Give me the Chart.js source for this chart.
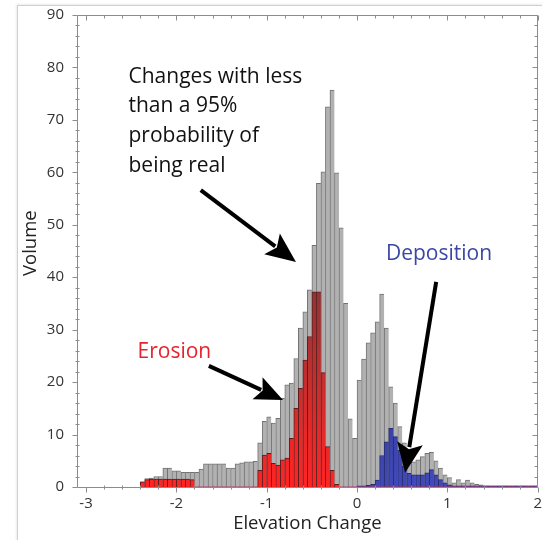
<!DOCTYPE html>
<html>
<head>
<meta charset="utf-8">
<script src="https://cdn.jsdelivr.net/npm/chart.js@4.4.1/dist/chart.umd.min.js"></script>
<style>
  html, body { margin: 0; padding: 0; background: #ffffff; }
  #wrap { position: relative; width: 542px; height: 540px; overflow: hidden; background: #fff; }
  #frame { position: absolute; left: 17px; top: 5px; width: 600px; height: 600px;
           border: 1px solid #cfcfcf; box-shadow: -1px -1px 2px rgba(0,0,0,0.08); }
  #c { position: absolute; left: 0; top: 0; }
</style>
</head>
<body>
<div id="wrap">
  <div id="frame"></div>
  <canvas id="c" width="542" height="540"></canvas>
</div>
<script>
// ---- data ----
const binCenters = [
  -2.375,-2.325,-2.275,-2.225,-2.175,-2.125,-2.075,-2.025,-1.975,-1.925,
  -1.875,-1.825,-1.775,-1.725,-1.675,-1.625,-1.575,-1.525,-1.475,-1.425,
  -1.375,-1.325,-1.275,-1.225,-1.175,-1.125,-1.075,-1.025,-0.975,-0.925,
  -0.875,-0.825,-0.775,-0.725,-0.675,-0.625,-0.575,-0.525,-0.475,-0.425,
  -0.375,-0.325,-0.275,-0.225,-0.175,-0.125,-0.075,-0.025,0.025,0.075,
  0.125,0.175,0.225,0.275,0.325,0.375,0.425,0.475,0.525,0.575,
  0.625,0.675,0.725,0.775,0.825,0.875,0.925,0.975,1.025,1.075,
  1.125,1.175,1.225,1.275,1.325,1.375,1.425,1.475,1.525,1.575,
  1.625,1.675,1.725,1.775,1.825,1.875,1.925,1.975
];
const totalVolume = [
  1.0,1.6,1.7,2.0,2.0,3.6,3.6,3.1,3.1,2.8,
  2.8,2.8,2.8,3.4,4.4,4.4,4.4,4.4,4.4,3.6,
  3.6,4.4,4.6,4.8,4.8,4.9,8.4,12.5,13.4,12.2,
  13.1,16.9,19.5,19.8,24.5,30.3,33.4,37.6,46.1,57.9,
  60.1,72.5,75.7,59.9,49.4,35.0,13.0,9.3,20.4,24.4,
  27.5,29.4,31.5,36.8,30.3,19.1,16.0,11.5,8.4,6.2,
  4.8,5.2,5.8,6.4,6.6,5.0,3.6,2.3,1.8,0.8,
  1.4,0.8,1.3,0.8,0.5,0.4,0.2,0.2,0.2,0.2,
  0.2,0.2,0.2,0.2,0.2,0.2,0.2,0.2
];
const erosionVolume = [
  1.0,1.4,1.5,1.5,1.5,1.5,1.5,1.5,1.5,1.5,
  1.5,1.4,0,0,0,0,0,0,0,0,
  0,0,0,0,0,0,3.2,6.1,6.4,4.5,
  4.2,5.2,5.5,9.3,15.0,18.8,24.2,28.7,37.2,37.2,
  21.8,7.7,3.2,0.5,0,0,0,0,0,0,
  0,0,0,0,0,0,0,0,0,0,
  0,0,0,0,0,0,0,0,0,0,
  0,0,0,0,0,0,0,0,0,0,
  0,0,0,0,0,0,0,0
];
const depositionVolume = [
  0,0,0,0,0,0,0,0,0,0,
  0,0,0,0,0,0,0,0,0,0,
  0,0,0,0,0,0,0,0,0,0,
  0,0,0,0,0,0,0,0,0,0,
  0,0,0,0,0,0,0,0,0.2,0.2,
  0.3,0.5,1.3,6.0,8.6,11.2,9.6,7.0,4.0,2.6,
  2.3,2.3,2.3,2.7,3.3,2.3,1.4,0.8,0.4,0.2,
  0.2,0.2,0.2,0.2,0.2,0.2,0.2,0.2,0.2,0.2,
  0.2,0.2,0.2,0.2,0.2,0.2,0.2,0.2
];
const xTickValues = [-3, -2, -1, 0, 1, 2];
const yTickValues = [0, 10, 20, 30, 40, 50, 60, 70, 80, 90];
const xAxisTitle = "Elevation Change";
const yAxisTitle = "Volume";
const noteLines = ["Changes with less", "than a 95%", "probability of", "being real"];
const erosionLabel = "Erosion";
const depositionLabel = "Deposition";

const FONT = "'Open Sans', 'Noto Sans', sans-serif";

function toPoints(vals) { return binCenters.map((c, i) => ({ x: c, y: vals[i] })); }

function gradFill(stops) {
  return function (context) {
    const chart = context.chart;
    const area = chart.chartArea;
    if (!area) return stops[0][1];
    const y = chart.scales.y;
    const g = chart.ctx.createLinearGradient(0, y.getPixelForValue(0), 0, y.getPixelForValue(40));
    stops.forEach(s => g.addColorStop(s[0], s[1]));
    return g;
  };
}
function bw(context) {
  const v = context.raw && context.raw.y;
  return v > 0 ? { top: 1, left: 1, right: 0, bottom: 0 } : 0;
}

function drawArrow(ctx, x1, y1, x2, y2, shaft, headLen, headW) {
  const ang = Math.atan2(y2 - y1, x2 - x1);
  const bx = x2 - Math.cos(ang) * headLen;
  const by = y2 - Math.sin(ang) * headLen;
  ctx.beginPath();
  ctx.lineWidth = shaft;
  ctx.lineCap = 'butt';
  ctx.moveTo(x1, y1);
  ctx.lineTo(bx + Math.cos(ang) * 4, by + Math.sin(ang) * 4);
  ctx.stroke();
  const px = -Math.sin(ang), py = Math.cos(ang);
  const nx = x2 - Math.cos(ang) * headLen * 0.8, ny = y2 - Math.sin(ang) * headLen * 0.8;
  ctx.beginPath();
  ctx.moveTo(x2, y2);
  ctx.lineTo(bx + px * headW / 2, by + py * headW / 2);
  ctx.lineTo(nx, ny);
  ctx.lineTo(bx - px * headW / 2, by - py * headW / 2);
  ctx.closePath();
  ctx.fill();
}

const frameAxes = {
  id: 'frameAxes',
  afterDatasetsDraw(chart) {
    const { ctx, chartArea: a, scales: { x, y } } = chart;
    ctx.save();
    ctx.strokeStyle = '#8c8c8c';
    ctx.lineWidth = 1;
    const L = Math.round(a.left) + 0.5, R = Math.round(a.right) - 0.5;
    const T = Math.round(a.top) + 0.5, B = Math.round(a.bottom) + 0.5;
    ctx.beginPath();
    ctx.moveTo(L, T); ctx.lineTo(R, T); ctx.lineTo(R, B); ctx.lineTo(L, B); ctx.closePath();
    ctx.stroke();
    ctx.beginPath();
    for (let i = 0; i <= 25; i++) {
      const v = -3 + i * 0.2;
      const px = Math.round(x.getPixelForValue(v)) + 0.5;
      const major = Math.abs(v - Math.round(v)) < 1e-6;
      if (major) {
        ctx.moveTo(px, B); ctx.lineTo(px, B + 5);
        ctx.moveTo(px, T); ctx.lineTo(px, T + 5);
      } else {
        ctx.moveTo(px, B - 2); ctx.lineTo(px, B + 2);
        ctx.moveTo(px, T); ctx.lineTo(px, T + 3);
      }
    }
    for (let v = 0; v <= 90; v += 2) {
      const py = Math.round(y.getPixelForValue(v)) + 0.5;
      const major = v % 10 === 0;
      if (major) {
        ctx.moveTo(L - 5, py); ctx.lineTo(L, py);
        ctx.moveTo(R - 5, py); ctx.lineTo(R, py);
      } else {
        ctx.moveTo(L - 2, py); ctx.lineTo(L + 2, py);
        ctx.moveTo(R - 3, py); ctx.lineTo(R, py);
      }
    }
    ctx.stroke();
    // y axis title, placed a little above the plot centre as in the reference
    ctx.save();
    ctx.fillStyle = '#222';
    ctx.font = "18.5px " + FONT;
    ctx.textAlign = 'center';
    ctx.textBaseline = 'middle';
    ctx.translate(31, y.getPixelForValue(46.5));
    ctx.rotate(-Math.PI / 2);
    ctx.fillText(yAxisTitle, 0, 0);
    ctx.restore();
    ctx.restore();
  }
};

const annotations = {
  id: 'annotations',
  afterDraw(chart) {
    const { ctx, scales: { x, y } } = chart;
    const X = v => x.getPixelForValue(v), Y = v => y.getPixelForValue(v);
    ctx.save();
    ctx.textBaseline = 'middle';
    ctx.textAlign = 'left';
    ctx.font = "21px " + FONT;
    ctx.fillStyle = '#111111';
    const noteY = [78.2, 72.6, 66.9, 61.2];
    noteLines.forEach((t, i) => ctx.fillText(t, X(-2.53), Y(noteY[i])));
    ctx.fillStyle = '#e8222c';
    ctx.fillText(erosionLabel, X(-2.43), Y(25.7));
    ctx.fillStyle = '#3b47a6';
    ctx.fillText(depositionLabel, X(0.32), Y(44.4));
    ctx.fillStyle = '#000'; ctx.strokeStyle = '#000';
    drawArrow(ctx, X(-1.73), Y(56.6), X(-0.676), Y(42.9), 4, 30, 26);
    drawArrow(ctx, X(-1.64), Y(23.1), X(-0.82), Y(16.6), 4, 28, 24);
    drawArrow(ctx, X(0.876), Y(39.1), X(0.532), Y(2.7), 4, 30, 26);
    ctx.restore();
  }
};

new Chart(document.getElementById('c'), {
  type: 'bar',
  data: {
    datasets: [
      { label: 'Erosion', data: toPoints(erosionVolume), grouped: false, order: 0,
        backgroundColor: gradFill([[0, '#ff2424'], [0.25, '#e82828'], [0.6, '#b83030'], [1, '#863636']]),
        borderColor: '#5e1c1c', borderWidth: bw, borderSkipped: 'start',
        barPercentage: 1, categoryPercentage: 1 },
      { label: 'Deposition', data: toPoints(depositionVolume), grouped: false, order: 1,
        backgroundColor: gradFill([[0, '#4049b8'], [0.3, '#3a42a6'], [1, '#2e3590']]),
        borderColor: '#262c70', borderWidth: bw, borderSkipped: 'start',
        barPercentage: 1, categoryPercentage: 1 },
      { label: 'Total', data: toPoints(totalVolume), grouped: false, order: 2,
        backgroundColor: '#b1b1b1', borderColor: '#727272', borderWidth: bw, borderSkipped: 'start',
        barPercentage: 1, categoryPercentage: 1 }
    ]
  },
  options: {
    responsive: false,
    animation: false,
    devicePixelRatio: 1,
    layout: { padding: { top: 15, right: 4, left: 0, bottom: 0 } },
    plugins: { legend: { display: false }, tooltip: { enabled: false } },
    scales: {
      x: {
        type: 'linear', min: -3.1, max: 2, offset: false,
        afterBuildTicks: s => { s.ticks = xTickValues.map(v => ({ value: v })); },
        afterFit: s => { s.height = 53; },
        grid: { display: false, drawTicks: true, tickLength: 8 },
        border: { display: false },
        ticks: { padding: 0, color: '#333', autoSkip: false, maxRotation: 0,
                 font: { family: FONT, size: 15 }, callback: v => String(v) },
        title: { display: true, text: xAxisTitle, color: '#222',
                 font: { family: FONT, size: 18.5 }, padding: { top: 0, bottom: 5 } }
      },
      y: {
        type: 'linear', min: 0, max: 90,
        afterBuildTicks: s => { s.ticks = yTickValues.map(v => ({ value: v })); },
        afterFit: s => { s.width = 77; },
        grid: { display: false, drawTicks: true, tickLength: 13 },
        border: { display: false },
        ticks: { padding: 0, color: '#333', autoSkip: false,
                 font: { family: FONT, size: 15 }, callback: v => String(v) },
        title: { display: false, text: yAxisTitle }
      }
    }
  },
  plugins: [frameAxes, annotations]
});
</script>
</body>
</html>
